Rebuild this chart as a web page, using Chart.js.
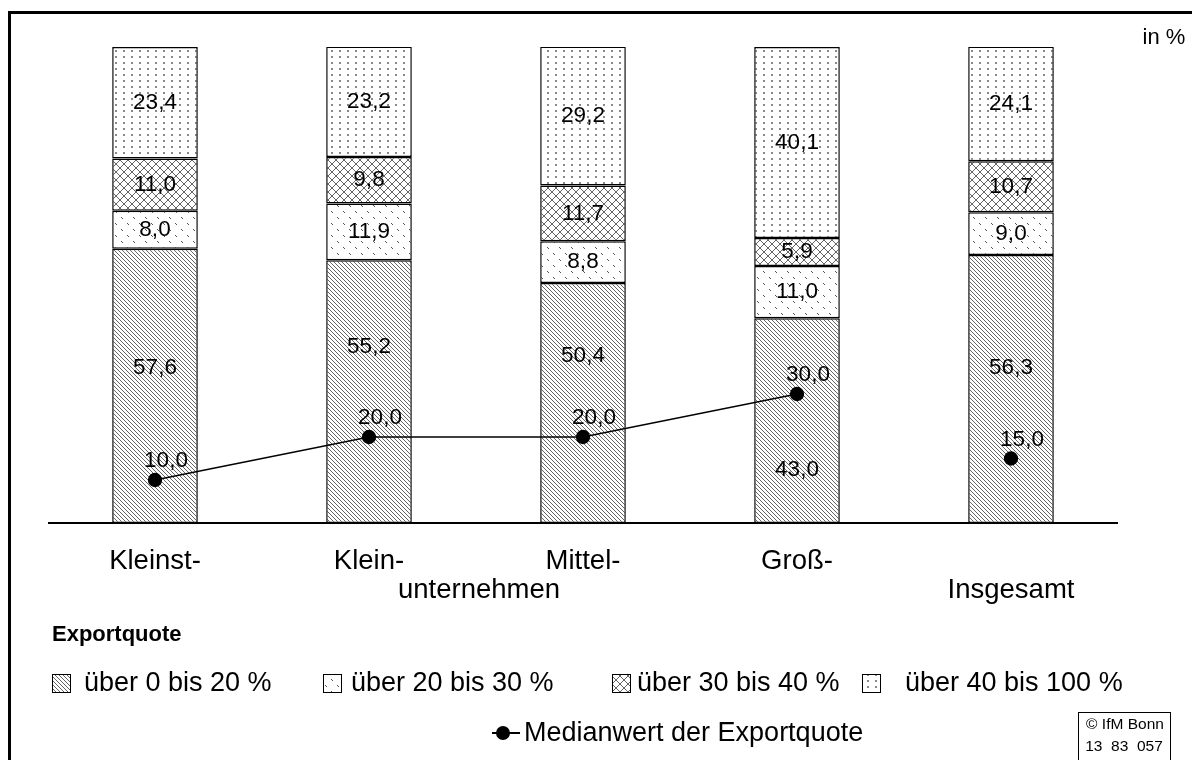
<!DOCTYPE html>
<html>
<head>
<meta charset="utf-8">
<script src="https://cdn.jsdelivr.net/npm/chart.js@4"></script>
<style>
  body { margin: 0; background: #fff; }
  canvas { display: block; }
</style>
</head>
<body>
<canvas id="exportChart" width="1192" height="760"></canvas>
<script>
// Exportquote nach Unternehmensgröße, in %
const categories = ['Kleinst-', 'Klein-', 'Mittel-', 'Groß-', 'Insgesamt'];
const bis20 = [57.6, 55.2, 50.4, 43.0, 56.3];
const bis30 = [8.0, 11.9, 8.8, 11.0, 9.0];
const bis40 = [11.0, 9.8, 11.7, 5.9, 10.7];
const bis100 = [23.4, 23.2, 29.2, 40.1, 24.1];
const median = [10.0, 20.0, 20.0, 30.0, 15.0];
const seriesNames = ['über 0 bis 20 %', 'über 20 bis 30 %', 'über 30 bis 40 %', 'über 40 bis 100 %'];

const FONT = "'Liberation Sans', Arial, sans-serif";

function makePattern(type) {
    const c = document.createElement('canvas');
    const g = c.getContext('2d');
    if (type === 'diag') {
        c.width = 4; c.height = 4;
        g.fillStyle = '#fff'; g.fillRect(0, 0, 4, 4);
        g.fillStyle = '#666';
        for (let i = 0; i < 4; i++) g.fillRect(i, i, 1, 1);
    } else if (type === 'sparse') {
        c.width = 12; c.height = 12;
        g.fillStyle = '#fff'; g.fillRect(0, 0, 12, 12);
        g.fillStyle = '#555';
        g.fillRect(1, 1, 1, 1); g.fillRect(2, 2, 1, 1);
        g.fillRect(7, 7, 1, 1); g.fillRect(8, 8, 1, 1);
    } else if (type === 'cross') {
        c.width = 8; c.height = 8;
        g.fillStyle = '#fff'; g.fillRect(0, 0, 8, 8);
        g.fillStyle = '#666';
        for (let i = 0; i < 8; i++) { g.fillRect(i, i, 1, 1); g.fillRect(7 - i, i, 1, 1); }
    } else {
        c.width = 8; c.height = 6;
        g.fillStyle = '#fff'; g.fillRect(0, 0, 8, 6);
        g.fillStyle = '#888';
        g.fillRect(3, 2, 2, 2);
    }
    return g.createPattern(c, 'repeat');
}

const patterns = [makePattern('diag'), makePattern('sparse'), makePattern('cross'), makePattern('dots')];

function fmt(v) {
    return v.toFixed(1).replace('.', ',');
}

// label heights (in %) for the bottom segments, placed to avoid the median dots
const bottomLabelAt = [32.6, 37.0, 35.1, 11.1, 32.6];

const decorPlugin = {
    id: 'decor',
    afterDatasetsDraw(chart) {
        const ctx = chart.ctx;
        const area = chart.chartArea;
        const x = chart.scales.x;
        const y = chart.scales.y;
        ctx.save();

        // frame
        ctx.fillStyle = '#000';
        ctx.fillRect(8, 11, 3, 760);
        ctx.fillRect(8, 11, 1192, 3);

        // axis line
        ctx.strokeStyle = '#000';
        ctx.lineWidth = 2;
        ctx.beginPath();
        ctx.moveTo(area.left, area.bottom);
        ctx.lineTo(area.right, area.bottom);
        ctx.stroke();

        // bar values
        ctx.fillStyle = '#000';
        ctx.textAlign = 'center';
        ctx.textBaseline = 'middle';
        ctx.font = '22.5px ' + FONT;
        for (let d = 0; d < 4; d++) {
            const meta = chart.getDatasetMeta(d);
            meta.data.forEach((bar, i) => {
                const v = chart.data.datasets[d].data[i];
                let ty = (bar.y + bar.base) / 2;
                if (d === 0) ty = y.getPixelForValue(bottomLabelAt[i]);
                ctx.fillText(fmt(v), bar.x, ty);
            });
        }

        // median values
        const lm = chart.getDatasetMeta(4);
        lm.data.forEach((pt, i) => {
            ctx.fillText(fmt(median[i]), pt.x + 11, pt.y - 19);
        });

        // category labels
        ctx.font = '27.5px ' + FONT;
        categories.forEach((c, i) => {
            const cy = i === 4 ? 590 : 561;
            ctx.fillText(c, x.getPixelForValue(i), cy);
        });
        ctx.fillText('unternehmen', (x.getPixelForValue(1) + x.getPixelForValue(2)) / 2 + 3, 590);

        // unit
        ctx.font = '22px ' + FONT;
        ctx.fillText('in %', 1164, 38);

        // legend
        ctx.textAlign = 'left';
        ctx.font = 'bold 22px ' + FONT;
        ctx.fillText('Exportquote', 52, 635);
        ctx.font = '27px ' + FONT;
        const boxX = [52, 323, 612, 862];
        const textX = [84, 351, 637, 905];
        seriesNames.forEach((name, i) => {
            ctx.fillStyle = patterns[i];
            ctx.fillRect(boxX[i], 674, 18, 18);
            ctx.strokeStyle = '#000';
            ctx.lineWidth = 1;
            ctx.strokeRect(boxX[i] + 0.5, 674.5, 18, 18);
            ctx.fillStyle = '#000';
            ctx.fillText(name, textX[i], 684);
        });

        ctx.lineWidth = 2;
        ctx.beginPath();
        ctx.moveTo(492, 733);
        ctx.lineTo(520, 733);
        ctx.stroke();
        ctx.beginPath();
        ctx.arc(503, 733, 7, 0, Math.PI * 2);
        ctx.fill();
        ctx.font = '27px ' + FONT;
        ctx.fillText('Medianwert der Exportquote', 524, 734);

        // source box
        ctx.lineWidth = 1;
        ctx.strokeRect(1078.5, 712.5, 92, 60);
        ctx.textAlign = 'center';
        ctx.font = '15.5px ' + FONT;
        ctx.fillText('© IfM Bonn', 1125, 725);
        ctx.fillText('13  83  057', 1124, 747);

        ctx.restore();
    }
};

const barStyle = {
    borderColor: '#000',
    borderWidth: 1.5,
    borderSkipped: false,
    barPercentage: 0.4,
    categoryPercentage: 1.0,
    order: 1,
    yAxisID: 'y'
};

const chart = new Chart(document.getElementById('exportChart').getContext('2d'), {
    type: 'bar',
    data: {
        labels: categories,
        datasets: [
            Object.assign({ label: seriesNames[0], data: bis20, backgroundColor: patterns[0] }, barStyle),
            Object.assign({ label: seriesNames[1], data: bis30, backgroundColor: patterns[1] }, barStyle),
            Object.assign({ label: seriesNames[2], data: bis40, backgroundColor: patterns[2] }, barStyle),
            Object.assign({ label: seriesNames[3], data: bis100, backgroundColor: patterns[3] }, barStyle),
            {
                type: 'line',
                label: 'Medianwert der Exportquote',
                data: median,
                yAxisID: 'y2',
                borderColor: '#000',
                borderWidth: 1.3,
                pointRadius: 6.5,
                pointBackgroundColor: '#000',
                pointBorderColor: '#000',
                tension: 0,
                fill: false,
                clip: false,
                order: 0,
                segment: {
                    borderColor: c => c.p1DataIndex === 4 ? 'rgba(0,0,0,0)' : '#000'
                }
            }
        ]
    },
    options: {
        responsive: false,
        animation: false,
        layout: { padding: { top: 47, left: 48, right: 74, bottom: 237 } },
        plugins: { legend: { display: false }, tooltip: { enabled: false } },
        scales: {
            x: { stacked: true, display: false },
            y: { stacked: true, min: 0, max: 100, display: false },
            y2: { min: 0, max: 110.7, display: false }
        }
    },
    plugins: [decorPlugin]
});
</script>
</body>
</html>
